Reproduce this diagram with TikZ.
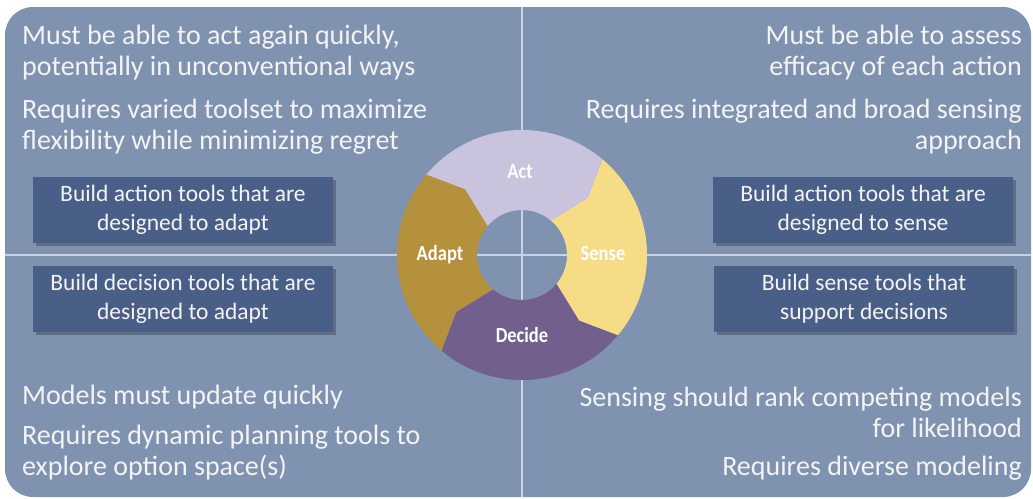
\documentclass[tikz,border=0pt]{standalone}
\usepackage{fontspec}
\setmainfont{Carlito}
\newfontfamily\wheelfont{Carlito}[FakeStretch=0.86]
\usetikzlibrary{positioning, calc, shadows}

\definecolor{panelbg}{HTML}{7F93B1}
\definecolor{divline}{HTML}{C9D3E2}
\definecolor{boxblue}{HTML}{4A5F88}
\definecolor{notetext}{HTML}{F3F3F3}
\definecolor{actcol}{HTML}{C9C3DD}
\definecolor{sensecol}{HTML}{F6DC86}
\definecolor{decidecol}{HTML}{725F8E}
\definecolor{adaptcol}{HTML}{B5913D}

% one segment of the cycle wheel: start angle, end angle, colour
\newcommand{\wheelseg}[3]{%
  \fill[#3] ([shift={(hub)}]#1:125pt) arc[start angle=#1, end angle=#2, radius=125pt]
    -- ([shift={(hub)}]#2-9:87pt) -- ([shift={(hub)}]#2:45pt)
    arc[start angle=#2, end angle=#1, radius=45pt]
    -- ([shift={(hub)}]#1-9:87pt) -- cycle;}

\begin{document}
\begin{tikzpicture}[
    x=1pt, y=-1pt,
    note/.style={text=notetext, font=\fontsize{28}{31}\selectfont, inner sep=0pt},
    leftnote/.style={note, align=left, anchor=west},
    rightnote/.style={note, align=right, anchor=east},
    toolbox/.style={fill=boxblue, minimum width=300pt, minimum height=66pt, align=center,
        text=notetext, font=\fontsize{23.5}{29}\selectfont,
        drop shadow={shadow xshift=2.5pt, shadow yshift=-2.5pt, opacity=0.25, fill=black}},
    seglabel/.style={text=white, font=\wheelfont\bfseries\fontsize{21.5}{24}\selectfont}
]
    \useasboundingbox (0,0) rectangle (1033,498);
    \fill[white] (0,0) rectangle (1033,498);

    % panel and quadrant dividers
    \fill[panelbg, rounded corners=28pt] (5,7) rectangle (1031,497);
    \coordinate (hub) at (522,255);
    \draw[divline, line width=1.6pt] (522,7) -- (522,497);
    \draw[divline, line width=1.6pt] (5,255) -- (1031,255);

    % the wheel
    \wheelseg{-40}{50}{sensecol}
    \wheelseg{50}{140}{actcol}
    \wheelseg{140}{230}{adaptcol}
    \wheelseg{230}{320}{decidecol}

    \node[seglabel] (act)    at (520,172) {Act};
    \node[seglabel] (sense)  at (603,254) {Sense};
    \node[seglabel] (adapt)  at (440,255) {Adapt};
    \node[seglabel] (decide) at (522,335) {Decide};

    % quadrant notes
    \node[leftnote]  (actneed)    at (22,53)   {Must be able to act again quickly,\\potentially in unconventional ways};
    \node[leftnote]  (actreq)     at (22,127)  {Requires varied toolset to maximize\\flexibility while minimizing regret};
    \node[rightnote] (senseneed)  at (1022,53) {Must be able to assess\\efficacy of each action};
    \node[rightnote] (sensereq)   at (1022,127) {Requires integrated and broad sensing\\approach};
    \node[leftnote]  (adaptneed)  at (22,397)  {Models must update quickly};
    \node[leftnote]  (adaptreq)   at (22,453)  {Requires dynamic planning tools to\\explore option space(s)};
    \node[rightnote] (decideneed) at (1022,412) {Sensing should rank competing models\\for likelihood};
    \node[rightnote] (decidereq)  at (1022,468) {Requires diverse modeling};

    % tool boxes
    \node[toolbox] (acttools)    at (183,210)  {Build action tools that are\\designed to adapt};
    \node[toolbox] (sensetools)  at (863,210)  {Build action tools that are\\designed to sense};
    \node[toolbox] (adapttools)  at (183,299)  {Build decision tools that are\\designed to adapt};
    \node[toolbox] (decidetools) at (864,299)  {Build sense tools that\\support decisions};
\end{tikzpicture}
\end{document}
